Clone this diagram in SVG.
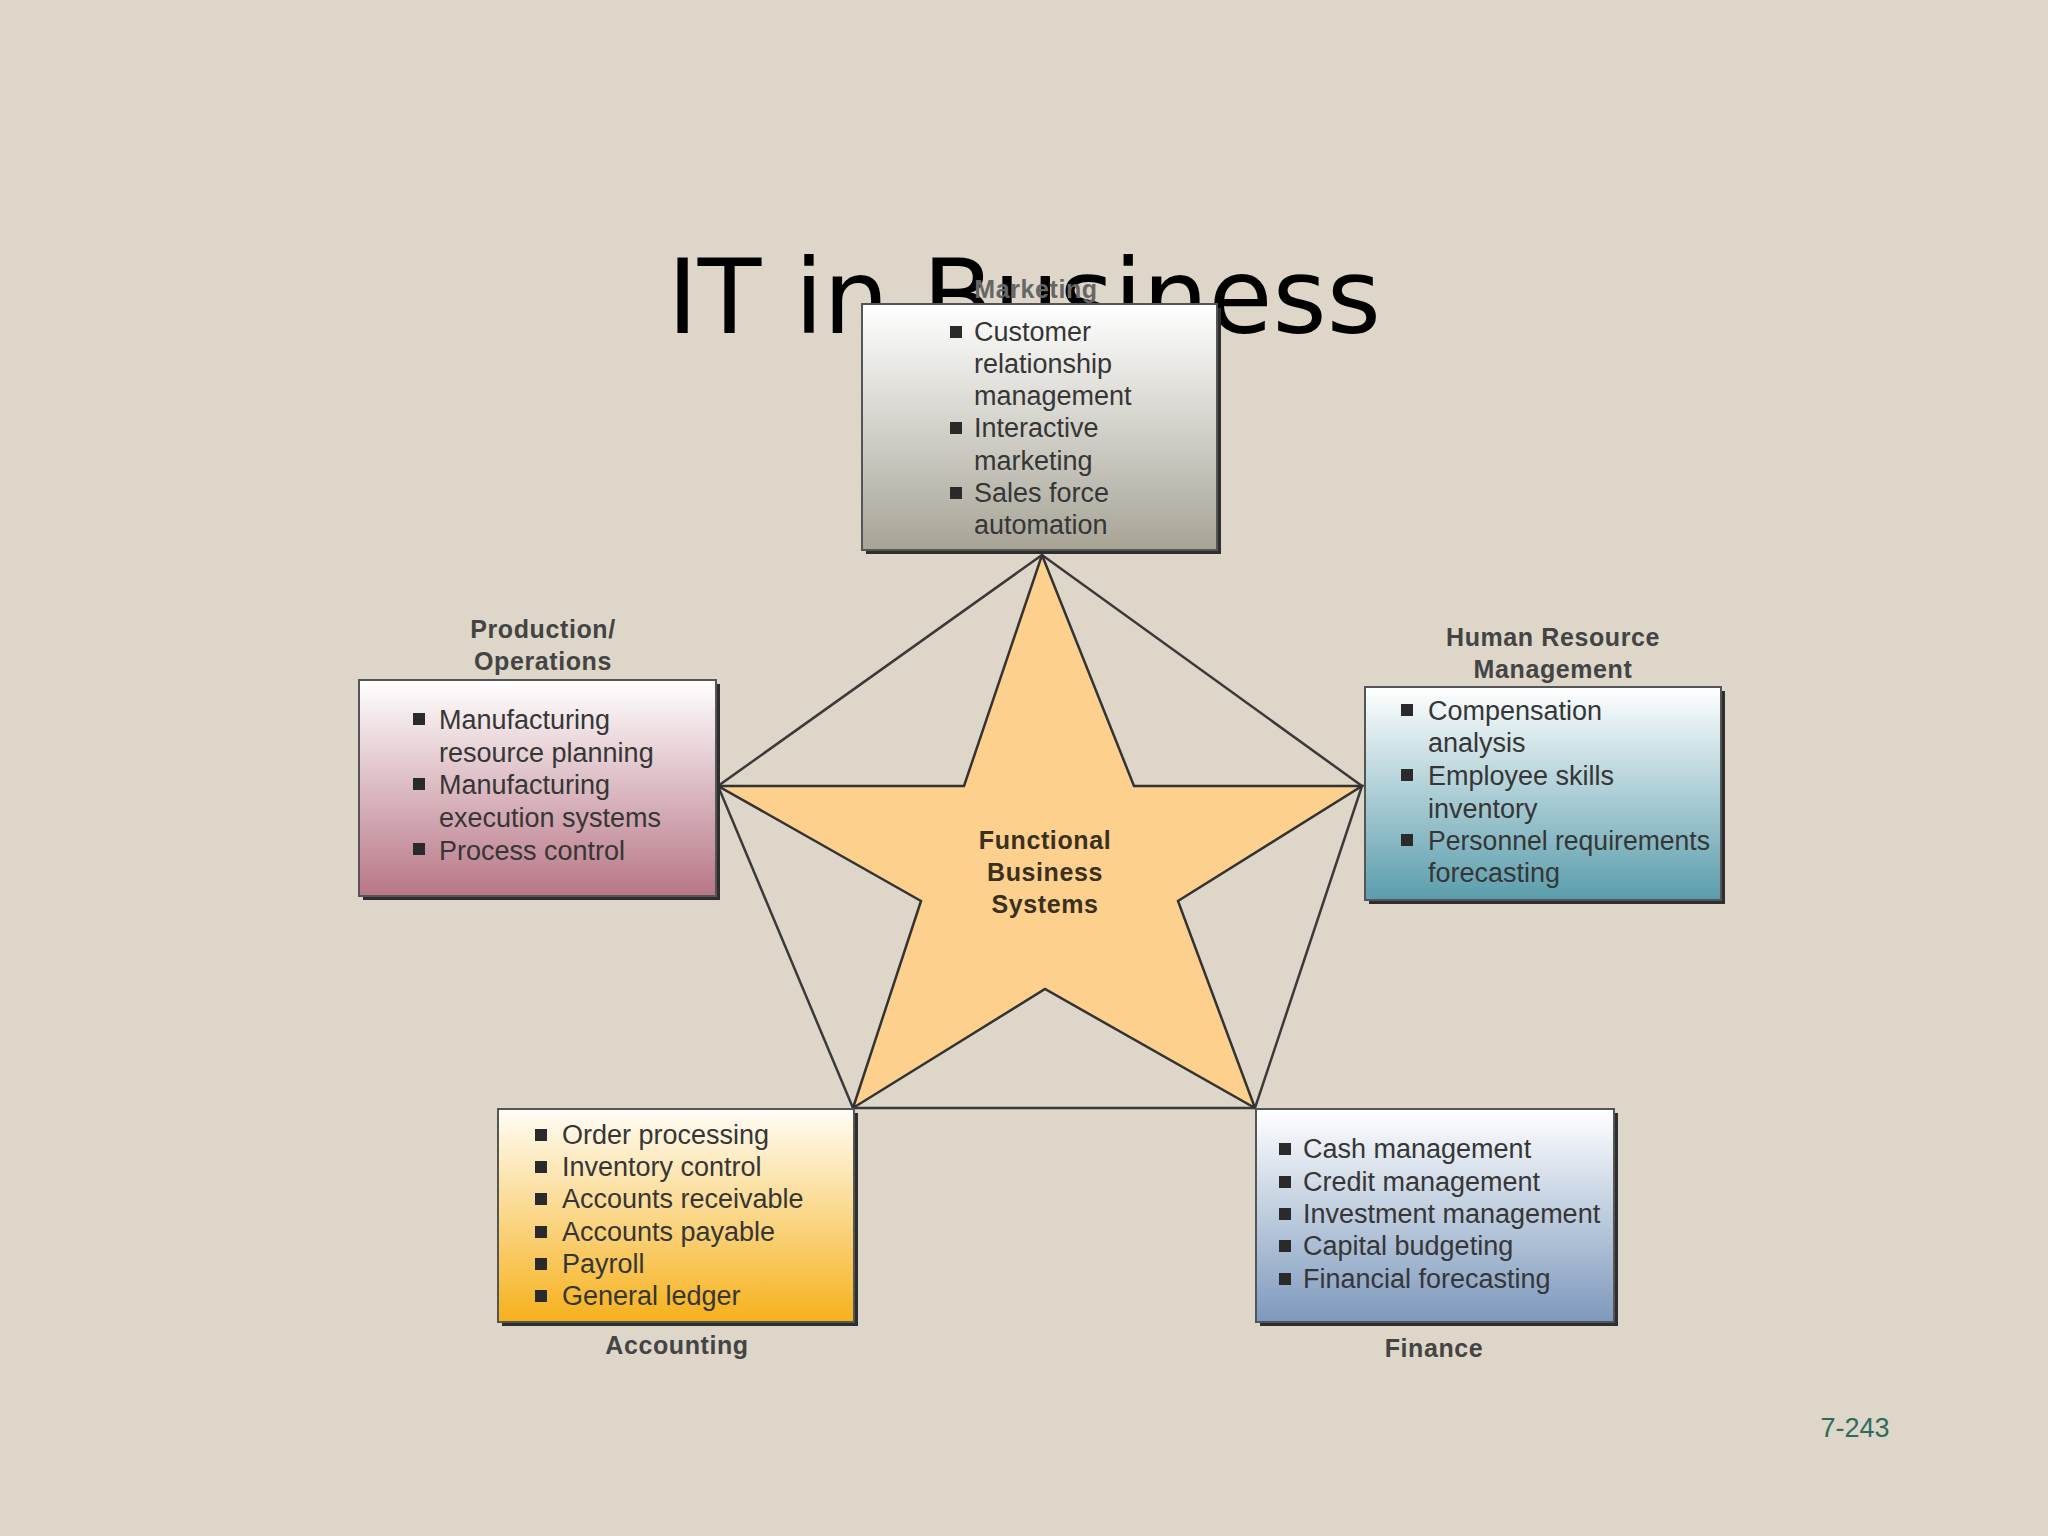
<svg xmlns="http://www.w3.org/2000/svg" width="2048" height="1536" viewBox="0 0 2048 1536">
<defs>
<style>
.bg{fill:#ddd6c9}
.box{stroke:#555;stroke-width:2}
.shadow{fill:#2e2e2e}
.item{font-family:"Liberation Sans",Arial,sans-serif;font-size:27px;fill:#363636}
.lbl{font-family:"Liberation Sans",Arial,sans-serif;font-size:25px;font-weight:bold;fill:#444;text-anchor:middle;letter-spacing:0.6px}
.bul{fill:#2a2a2a}
.edge{fill:none;stroke:#3a3a3a;stroke-width:2.5}
</style>
<linearGradient id="gMkt" x1="0" y1="0" x2="0" y2="1"><stop offset="0" stop-color="#ffffff"/><stop offset="1" stop-color="#a7a496"/></linearGradient>
<linearGradient id="gProd" x1="0" y1="0" x2="0" y2="1"><stop offset="0" stop-color="#ffffff"/><stop offset="1" stop-color="#b87686"/></linearGradient>
<linearGradient id="gHR" x1="0" y1="0" x2="0" y2="1"><stop offset="0" stop-color="#ffffff"/><stop offset="1" stop-color="#5a9dac"/></linearGradient>
<linearGradient id="gAcc" x1="0" y1="0" x2="0" y2="1"><stop offset="0" stop-color="#fffdf6"/><stop offset="1" stop-color="#f6b11c"/></linearGradient>
<linearGradient id="gFin" x1="0" y1="0" x2="0" y2="1"><stop offset="0" stop-color="#ffffff"/><stop offset="1" stop-color="#7d99bd"/></linearGradient>
<pattern id="speck" width="97" height="89" patternUnits="userSpaceOnUse">
<rect width="97" height="89" fill="#ddd6c9"/>
<circle cx="12" cy="18" r="1.5" fill="#b9b2a4"/><circle cx="55" cy="40" r="1.2" fill="#f2eee6"/>
<circle cx="80" cy="70" r="1.4" fill="#bfb8aa"/><circle cx="33" cy="66" r="1" fill="#f4f0e8"/>
<circle cx="70" cy="12" r="1" fill="#c6bfb2"/>
</pattern>
</defs>
<rect class="bg" width="2048" height="1536" fill="url(#speck)"/>

<g id="title">
<text x="1024" y="333" font-family="DejaVu Sans, Verdana, sans-serif" font-size="104" fill="#000" text-anchor="middle">IT in Business</text>
</g>

<g id="connectors">
<polygon class="edge" points="1042,555 718,786 853,1108 1255,1108 1362,786"/>
</g>

<g id="star">
<polygon points="1042,555 1134,786 1362,786 1178,901 1255,1108 1045,989 853,1108 921,901 718,786 964,786" fill="#fdd08e" stroke="#333" stroke-width="2.5" stroke-linejoin="miter"/>
<text class="lbl" style="fill:#3a3020" x="1045" y="849">Functional</text>
<text class="lbl" style="fill:#3a3020" x="1045" y="881">Business</text>
<text class="lbl" style="fill:#3a3020" x="1045" y="913">Systems</text>
</g>

<g id="marketing">
<text class="lbl" style="fill:#666" x="1036" y="298">Marketing</text>
<rect class="shadow" x="866" y="308" width="355" height="246"/>
<rect class="box" x="862" y="304" width="355" height="246" fill="url(#gMkt)"/>
<rect class="bul" x="950" y="326" width="12" height="12"/>
<rect class="bul" x="950" y="422" width="12" height="12"/>
<rect class="bul" x="950" y="487" width="12" height="12"/>
<text class="item" x="974" y="341">Customer</text>
<text class="item" x="974" y="373">relationship</text>
<text class="item" x="974" y="405">management</text>
<text class="item" x="974" y="437">Interactive</text>
<text class="item" x="974" y="470">marketing</text>
<text class="item" x="974" y="502">Sales force</text>
<text class="item" x="974" y="534">automation</text>
</g>

<g id="production">
<text class="lbl" x="543" y="638">Production/</text>
<text class="lbl" x="543" y="670">Operations</text>
<rect class="shadow" x="363" y="684" width="357" height="216"/>
<rect class="box" x="359" y="680" width="357" height="216" fill="url(#gProd)"/>
<rect class="bul" x="413" y="713" width="12" height="12"/>
<rect class="bul" x="413" y="778" width="12" height="12"/>
<rect class="bul" x="413" y="843" width="12" height="12"/>
<text class="item" x="439" y="729">Manufacturing</text>
<text class="item" x="439" y="762">resource planning</text>
<text class="item" x="439" y="794">Manufacturing</text>
<text class="item" x="439" y="827">execution systems</text>
<text class="item" x="439" y="860">Process control</text>
</g>

<g id="hr">
<text class="lbl" x="1553" y="646">Human Resource</text>
<text class="lbl" x="1553" y="678">Management</text>
<rect class="shadow" x="1369" y="691" width="356" height="213"/>
<rect class="box" x="1365" y="687" width="356" height="213" fill="url(#gHR)"/>
<rect class="bul" x="1401" y="704" width="12" height="12"/>
<rect class="bul" x="1401" y="769" width="12" height="12"/>
<rect class="bul" x="1401" y="834" width="12" height="12"/>
<text class="item" x="1428" y="720">Compensation</text>
<text class="item" x="1428" y="752">analysis</text>
<text class="item" x="1428" y="785">Employee skills</text>
<text class="item" x="1428" y="818">inventory</text>
<text class="item" x="1428" y="850" textLength="282" lengthAdjust="spacingAndGlyphs">Personnel requirements</text>
<text class="item" x="1428" y="882">forecasting</text>
</g>

<g id="accounting">
<rect class="shadow" x="502" y="1113" width="356" height="213"/>
<rect class="box" x="498" y="1109" width="356" height="213" fill="url(#gAcc)"/>
<rect class="bul" x="535" y="1129" width="12" height="12"/>
<rect class="bul" x="535" y="1161" width="12" height="12"/>
<rect class="bul" x="535" y="1193" width="12" height="12"/>
<rect class="bul" x="535" y="1226" width="12" height="12"/>
<rect class="bul" x="535" y="1258" width="12" height="12"/>
<rect class="bul" x="535" y="1290" width="12" height="12"/>
<text class="item" x="562" y="1144">Order processing</text>
<text class="item" x="562" y="1176">Inventory control</text>
<text class="item" x="562" y="1208">Accounts receivable</text>
<text class="item" x="562" y="1241">Accounts payable</text>
<text class="item" x="562" y="1273">Payroll</text>
<text class="item" x="562" y="1305">General ledger</text>
<text class="lbl" x="677" y="1354">Accounting</text>
</g>

<g id="finance">
<rect class="shadow" x="1260" y="1113" width="358" height="213"/>
<rect class="box" x="1256" y="1109" width="358" height="213" fill="url(#gFin)"/>
<rect class="bul" x="1279" y="1143" width="12" height="12"/>
<rect class="bul" x="1279" y="1176" width="12" height="12"/>
<rect class="bul" x="1279" y="1208" width="12" height="12"/>
<rect class="bul" x="1279" y="1240" width="12" height="12"/>
<rect class="bul" x="1279" y="1273" width="12" height="12"/>
<text class="item" x="1303" y="1158">Cash management</text>
<text class="item" x="1303" y="1191">Credit management</text>
<text class="item" x="1303" y="1223">Investment management</text>
<text class="item" x="1303" y="1255">Capital budgeting</text>
<text class="item" x="1303" y="1288">Financial forecasting</text>
<text class="lbl" x="1434" y="1357">Finance</text>
</g>

<text x="1855" y="1437" font-family="Liberation Sans, Arial, sans-serif" font-size="27" fill="#2e6b5e" text-anchor="middle">7-243</text>
</svg>
